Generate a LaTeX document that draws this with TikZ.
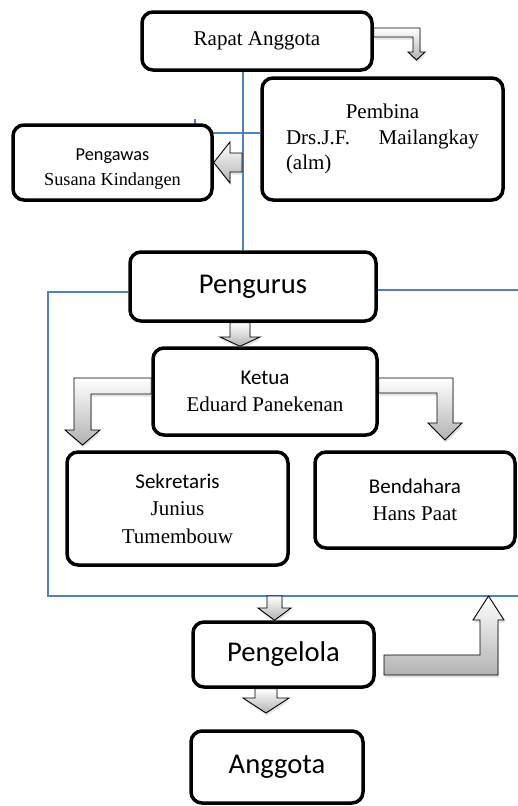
\documentclass[tikz,border=0pt]{standalone}
\usepackage{fontspec}
\setmainfont{Liberation Serif}
\newfontfamily\calibri{Carlito}
\usetikzlibrary{calc,shadows,backgrounds}
\definecolor{lineblue}{HTML}{4F81BD}
\tikzset{
  orgbox/.style={draw, line width=3.5pt, rounded corners=11pt, fill=white, inner sep=0pt, align=center, font=\fontsize{21}{27.5}\selectfont},
  bigbox/.style={orgbox, font=\calibri\fontsize{28.6}{34}\selectfont},
  blockarrow/.style={draw=black, line width=0.9pt, line join=miter, top color=white, bottom color=black!30, drop shadow={opacity=0.22, shadow xshift=1pt, shadow yshift=-2.5pt}},
  linkline/.style={draw=lineblue, line width=1.4pt}
}

\begin{document}
\begin{tikzpicture}[x=1pt, y=-1pt]
\useasboundingbox (0,0) rectangle (518,806);

\node[orgbox, minimum width=230pt, minimum height=58pt] (rapat) at (257,41) {Rapat Anggota};
\node[orgbox, minimum width=241pt, minimum height=122pt, text width=193pt, align=left, font=\fontsize{21}{25.5}\selectfont] (pembina) at (382.5,139)
  {\centering Pembina\par\makebox[193pt]{Drs.J.F.\hfill Mailangkay}\par\raggedright (alm)};
\node[orgbox, minimum width=199pt, minimum height=75pt, font=\fontsize{18.3}{25}\selectfont] (pengawas) at (112.5,162.5)
  {\raisebox{-7pt}[\height][\depth]{\parbox{190pt}{\centering{\calibri Pengawas}\\Susana Kindangen}}};
\node[bigbox, minimum width=246pt, minimum height=69pt] (pengurus) at (253,286.5) {Pengurus};
\node[orgbox, minimum width=224pt, minimum height=87pt] (ketua) at (265,391.5) {{\calibri Ketua}\\Eduard Panekenan};
\node[orgbox, minimum width=221pt, minimum height=113pt] (sekretaris) at (177.5,508.5) {{\calibri Sekretaris}\\Junius\\Tumembouw};
\node[orgbox, minimum width=200pt, minimum height=96pt] (bendahara) at (415,500) {{\calibri Bendahara}\\Hans Paat};
\node[bigbox, minimum width=181pt, minimum height=65pt] (pengelola) at (283.5,654.5) {Pengelola};
\node[bigbox, minimum width=172pt, minimum height=72pt] (anggota) at (277,767) {Anggota};

\coordinate (spine) at (243,0);
\coordinate (stub) at (195,119);
\coordinate (hub) at (195,133);
\coordinate (framenw) at (48,292);
\coordinate (framesw) at (48,596);
\coordinate (framese) at (518,596);
\coordinate (framene) at (518,290);

\begin{scope}[on background layer]
  \draw[linkline] (rapat.south -| spine) -- (pengurus.north -| spine);
  \draw[linkline] (stub) -- (hub) -- (pembina.west |- hub);
  \draw[linkline] (pengurus.west |- framenw) -- (framenw) -- (framesw) -- (framese);
  \draw[linkline] (pengurus.east |- framene) -- (framene);
\end{scope}

\draw[blockarrow] (rapat.east |- 0,28) -- (420,28) -- (420,52) -- (425,52) -- (416.5,60) -- (408,52) -- (413,52) -- (413,37) -- (rapat.east |- 0,37) -- cycle;
\draw[blockarrow] (242,153) -- (230,153) -- (230,142) -- (pengawas.east |- 0,162.5) -- (230,183) -- (230,172) -- (242,172) -- cycle;
\draw[blockarrow] (230,0 |- pengurus.south) -- (230,337) -- (220,337) -- (240,0 |- ketua.north) -- (260,337) -- (250,337) -- (250,0 |- pengurus.south) -- cycle;
\draw[blockarrow] (ketua.west |- 0,378) -- (74,378) -- (74,430) -- (65,430) -- (82.5,445) -- (100,430) -- (91,430) -- (91,394) -- (ketua.west |- 0,394) -- cycle;
\draw[blockarrow] (ketua.east |- 0,378) -- (453,378) -- (453,423) -- (462,423) -- (445,440) -- (428,423) -- (437,423) -- (437,393) -- (ketua.east |- 0,393) -- cycle;
\draw[blockarrow] (267,0 |- framesw) -- (267,608) -- (258,608) -- (274.5,0 |- pengelola.north) -- (291,608) -- (282,608) -- (282,0 |- framesw) -- cycle;
\draw[blockarrow] (255,0 |- pengelola.south) -- (255,698) -- (243,698) -- (266,713) -- (289,698) -- (277,698) -- (277,0 |- pengelola.south) -- cycle;
\draw[blockarrow] (384,655) -- (480,655) -- (480,620) -- (473,620) -- (488.5,0 |- framese) -- (504,620) -- (498,620) -- (498,675) -- (384,675) -- cycle;
\end{tikzpicture}
\end{document}
